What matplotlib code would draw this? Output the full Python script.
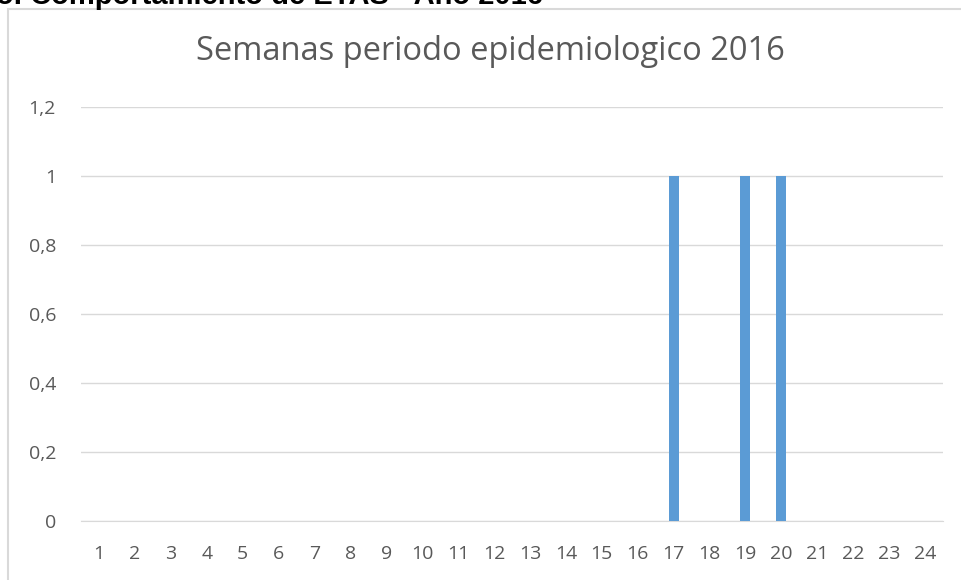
import matplotlib
matplotlib.use('Agg')
from matplotlib import pyplot as plt
from matplotlib.patches import Rectangle

semanas = [str(i) for i in range(1, 25)]
casos = [0, 0, 0, 0, 0, 0, 0, 0, 0, 0, 0, 0,
         0, 0, 0, 0, 1, 0, 1, 1, 0, 0, 0, 0]
y_ticks = [0, 0.2, 0.4, 0.6, 0.8, 1, 1.2]
y_labels = ['0', '0,2', '0,4', '0,6', '0,8', '1', '1,2']

W, H = 961, 580
fig = plt.figure(figsize=(W / 100, H / 100), dpi=100)

# chart border (cut off on right and bottom)
fig.patches.append(Rectangle((8 / W, -0.05), 1.1, 1 - 9 / H + 0.05,
                             transform=fig.transFigure, fill=False,
                             edgecolor='#d9d9d9', linewidth=1.5))

# caption above the chart, cropped at the top like the source image
fig.text(-4 / W, 1 - 4 / H, 'o. Comportamiento de ETAS - Año 2016',
         fontsize=21, fontweight='bold', family='Liberation Sans',
         color='black', va='baseline', ha='left')

ax = fig.add_axes([81 / W, 59 / H, 862 / W, 414 / H])
x = list(range(len(semanas)))
ax.bar(x, casos, width=0.28, color='#5B9BD5', zorder=3)
ax.set_xlim(-0.5, len(semanas) - 0.5)
ax.set_ylim(0, 1.2)
ax.set_xticks(x)
ax.set_xticklabels(semanas)
ax.set_yticks(y_ticks)
ax.set_yticklabels(y_labels)
ax.grid(axis='y', color='#d9d9d9', linewidth=1, zorder=0)
for s in ['top', 'right', 'left']:
    ax.spines[s].set_visible(False)
ax.spines['bottom'].set_color('#d9d9d9')
ax.tick_params(length=0, labelsize=14, labelcolor='#595959')
ax.tick_params(axis='x', pad=17)
ax.tick_params(axis='y', pad=18)
for t in ax.get_xticklabels() + ax.get_yticklabels():
    t.set_family('Open Sans')

fig.text(490 / W, 1 - 52 / H, 'Semanas periodo epidemiologico 2016',
         fontsize=23.5, color='#595959', family='Open Sans',
         ha='center', va='center')

fig.savefig('out.png', dpi=100)
